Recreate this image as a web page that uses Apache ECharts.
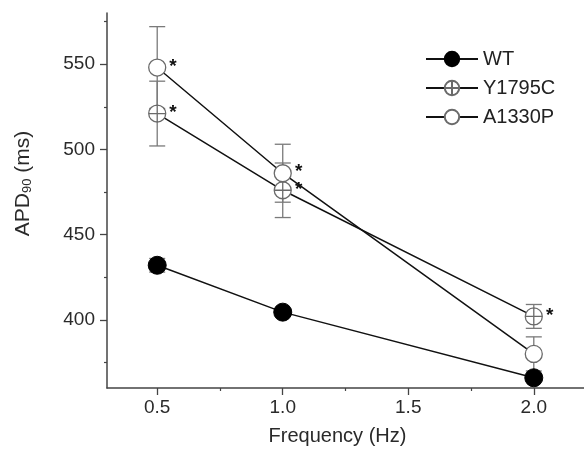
<!DOCTYPE html>
<html><head><meta charset="utf-8">
<script src="https://cdn.jsdelivr.net/npm/echarts@6/dist/echarts.min.js"></script>
<style>html,body{margin:0;padding:0;background:#fff}#c{width:584px;height:451px}</style>
</head><body><div id="c"></div>
<script>
const freq = [0.5, 1.0, 2.0];
const seriesNames = ['WT', 'Y1795C', 'A1330P'];
const wt = [432, 404.5, 366];
const wtErr = [4, 2, 2];
const y1795c = [521, 476, 402];
const y1795cErr = [19, 16, 7];
const a1330p = [548, 486, 380];
const a1330pErr = [24, 17, 10];
const y1795cStar = [true, true, true];
const a1330pStar = [true, true, false];
const wtStar = [false, false, false];
const yTicks = [400, 450, 500, 550];
const yMinor = [375, 425, 475, 525, 575];
const xTicks = [0.5, 1.0, 1.5, 2.0];
const xMinor = [0.75, 1.25, 1.75];

const FONT = 'Liberation Sans, Arial, sans-serif';
const crossCircle = 'path://M10,0 A10,10 0 1,1 10,20 A10,10 0 1,1 10,0 Z M0,10 L20,10 M10,0 L10,20';

function pts(vals, stars) {
  return freq.map((f, i) => ({ value: [f, vals[i]], label: { show: stars[i] } }));
}
function errData(vals, errs) {
  return freq.map((f, i) => [f, vals[i], errs[i]]);
}
function errSeries(vals, errs) {
  return {
    type: 'custom', z: 1, silent: true,
    data: errData(vals, errs),
    renderItem: function (params, api) {
      const x = api.value(0), y = api.value(1), e = api.value(2);
      const t = api.coord([x, y + e]);
      const b = api.coord([x, y - e]);
      const w = 8;
      const st = { stroke: '#7a7a7a', lineWidth: 1.3 };
      return { type: 'group', children: [
        { type: 'line', shape: { x1: t[0], y1: t[1], x2: b[0], y2: b[1] }, style: st },
        { type: 'line', shape: { x1: t[0] - w, y1: t[1], x2: t[0] + w, y2: t[1] }, style: st },
        { type: 'line', shape: { x1: b[0] - w, y1: b[1], x2: b[0] + w, y2: b[1] }, style: st }
      ]};
    }
  };
}
const starLabel = {
  show: false, position: 'right', distance: 2, formatter: '*',
  fontSize: 19, fontWeight: 'bold', color: '#111', fontFamily: FONT, offset: [1, -1]
};
const lineStyle = { color: '#111', width: 1.5 };

const chart = echarts.init(document.getElementById('c'), null, { renderer: 'canvas' });
chart.setOption({
  animation: false,
  backgroundColor: '#fff',
  grid: { left: 107, right: 0, top: 13, bottom: 62, containLabel: false },
  legend: {
    orient: 'vertical', left: 420, top: 44, itemGap: 9,
    itemWidth: 52, itemHeight: 18,
    data: seriesNames,
    textStyle: { fontSize: 20, lineHeight: 18, color: '#222', fontFamily: FONT }
  },
  xAxis: [{
    type: 'value', min: 0.3, max: 2.2, position: 'bottom',
    axisLine: { show: true, onZero: false, lineStyle: { color: '#444', width: 1.5 } },
    axisTick: { show: true, length: 7, customValues: xTicks, lineStyle: { color: '#444', width: 1.3 } },
    axisLabel: { customValues: xTicks, formatter: v => v.toFixed(1), fontSize: 19, color: '#2a2a2a', fontFamily: FONT, margin: 10 },
    splitLine: { show: false },
    name: 'Frequency (Hz)', nameLocation: 'middle', nameGap: 38,
    nameTextStyle: { fontSize: 20, color: '#2a2a2a', fontFamily: FONT, padding: [0, 16, 0, 0] }
  }, {
    type: 'value', min: 0.3, max: 2.2, position: 'bottom', offset: 0,
    axisLine: { show: false }, axisLabel: { show: false }, splitLine: { show: false },
    axisTick: { show: true, length: 3, customValues: xMinor, lineStyle: { color: '#444', width: 1.2 } }
  }],
  yAxis: [{
    type: 'value', min: 360, max: 580, position: 'left',
    axisLine: { show: true, onZero: false, lineStyle: { color: '#444', width: 1.5 } },
    axisTick: { show: true, length: 7, customValues: yTicks, lineStyle: { color: '#444', width: 1.3 } },
    axisLabel: { customValues: yTicks, fontSize: 19, color: '#2a2a2a', fontFamily: FONT, margin: 12 },
    splitLine: { show: false },
    name: '{a|APD}{b|90}{a| (ms)}', nameLocation: 'middle', nameGap: 73,
    nameTextStyle: {
      fontFamily: FONT, color: '#2a2a2a', padding: [0, 0, 0, 34],
      rich: {
        a: { fontSize: 21, color: '#2a2a2a', fontFamily: FONT },
        b: { fontSize: 13, color: '#2a2a2a', fontFamily: FONT, verticalAlign: 'bottom', padding: [9, 0, 0, 0] }
      }
    }
  }, {
    type: 'value', min: 360, max: 580, position: 'left', offset: 0,
    axisLine: { show: false }, axisLabel: { show: false }, splitLine: { show: false },
    axisTick: { show: true, length: 3, customValues: yMinor, lineStyle: { color: '#444', width: 1.2 } }
  }],
  series: [
    errSeries(wt, wtErr),
    errSeries(y1795c, y1795cErr),
    errSeries(a1330p, a1330pErr),
    {
      name: 'WT', type: 'line', z: 3, data: pts(wt, wtStar),
      symbol: 'circle', symbolSize: 18, lineStyle: lineStyle,
      itemStyle: { color: '#000', borderColor: '#000', borderWidth: 1 },
      label: starLabel
    },
    {
      name: 'Y1795C', type: 'line', z: 3, data: pts(y1795c, y1795cStar),
      symbol: crossCircle, symbolSize: 17, symbolKeepAspect: true, lineStyle: lineStyle,
      itemStyle: { color: '#fff', borderColor: '#6a6a6a', borderWidth: 1.3 },
      label: starLabel
    },
    {
      name: 'A1330P', type: 'line', z: 3, data: pts(a1330p, a1330pStar),
      symbol: 'circle', symbolSize: 17, lineStyle: lineStyle,
      itemStyle: { color: '#fff', borderColor: '#6a6a6a', borderWidth: 1.3 },
      label: starLabel
    }
  ]
});
</script>
</body></html>
